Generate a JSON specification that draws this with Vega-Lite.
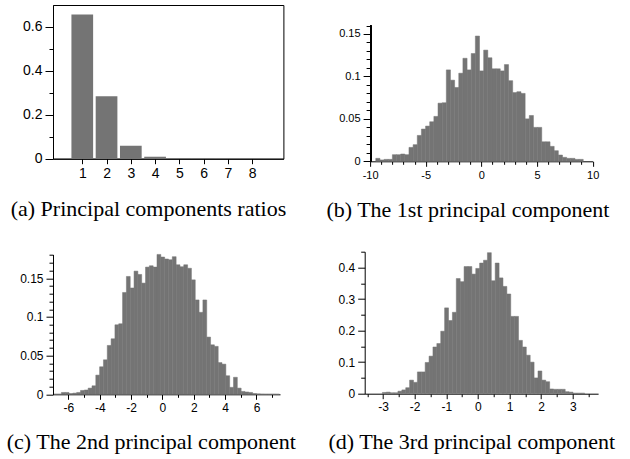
{
  "$schema": "https://vega.github.io/schema/vega-lite/v6.json",
  "background": "white",
  "padding": {"left": 6, "top": 4, "right": 4, "bottom": 4},
  "autosize": {"type": "pad"},
  "config": {
    "view": {"stroke": null},
    "axis": {"labelFont": "Liberation Sans", "labelColor": "black", "tickColor": "black", "domainColor": "black", "tickWidth": 1, "domainWidth": 1, "grid": false, "labelFlush": false, "labelOverlap": false, "labelPadding": 3},
    "title": {"font": "Liberation Serif", "fontSize": 22, "fontWeight": "normal", "color": "black"},
    "rect": {"color": "#747474", "stroke": "#747474", "strokeWidth": 0.5}
  },
  "datasets": {
    "pcr": [
      {"component": 1, "ratio": 0.657}, {"component": 2, "ratio": 0.284}, {"component": 3, "ratio": 0.059}, {"component": 4, "ratio": 0.009},
      {"component": 5, "ratio": 0.003}, {"component": 6, "ratio": 0.0015}, {"component": 7, "ratio": 0.001}, {"component": 8, "ratio": 0.001}
    ],
    "pc1": [
      {"x0":-9.49,"x1":-9.117,"density":0.0035},{"x0":-9.117,"x1":-8.744,"density":0.0016},{"x0":-8.744,"x1":-8.372,"density":0.0023},{"x0":-8.372,"x1":-7.999,"density":0.0023},
      {"x0":-7.999,"x1":-7.626,"density":0.0078},{"x0":-7.626,"x1":-7.253,"density":0.0078},{"x0":-7.253,"x1":-6.88,"density":0.0086},{"x0":-6.88,"x1":-6.508,"density":0.0078},
      {"x0":-6.508,"x1":-6.135,"density":0.0164},{"x0":-6.135,"x1":-5.762,"density":0.0196},{"x0":-5.762,"x1":-5.389,"density":0.0305},{"x0":-5.389,"x1":-5.016,"density":0.038},
      {"x0":-5.016,"x1":-4.644,"density":0.0415},{"x0":-4.644,"x1":-4.271,"density":0.0466},{"x0":-4.271,"x1":-3.898,"density":0.0529},{"x0":-3.898,"x1":-3.525,"density":0.0685},
      {"x0":-3.525,"x1":-3.152,"density":0.069},{"x0":-3.152,"x1":-2.78,"density":0.1077},{"x0":-2.78,"x1":-2.407,"density":0.0956},{"x0":-2.407,"x1":-2.034,"density":0.087},
      {"x0":-2.034,"x1":-1.661,"density":0.1038},{"x0":-1.661,"x1":-1.288,"density":0.1214},{"x0":-1.288,"x1":-0.916,"density":0.1077},{"x0":-0.916,"x1":-0.543,"density":0.127},
      {"x0":-0.543,"x1":-0.17,"density":0.1476},{"x0":-0.17,"x1":0.203,"density":0.1065},{"x0":0.203,"x1":0.576,"density":0.131},{"x0":0.576,"x1":0.948,"density":0.122},
      {"x0":0.948,"x1":1.321,"density":0.109},{"x0":1.321,"x1":1.694,"density":0.109},{"x0":1.694,"x1":2.067,"density":0.1065},{"x0":2.067,"x1":2.44,"density":0.114},
      {"x0":2.44,"x1":2.812,"density":0.095},{"x0":2.812,"x1":3.185,"density":0.081},{"x0":3.185,"x1":3.558,"density":0.082},{"x0":3.558,"x1":3.931,"density":0.08},
      {"x0":3.931,"x1":4.304,"density":0.05},{"x0":4.304,"x1":4.676,"density":0.054},{"x0":4.676,"x1":5.049,"density":0.04},{"x0":5.049,"x1":5.422,"density":0.04},
      {"x0":5.422,"x1":5.795,"density":0.023},{"x0":5.795,"x1":6.168,"density":0.023},{"x0":6.168,"x1":6.54,"density":0.0176},{"x0":6.54,"x1":6.913,"density":0.0125},
      {"x0":6.913,"x1":7.286,"density":0.0074},{"x0":7.286,"x1":7.659,"density":0.0047},{"x0":7.659,"x1":8.032,"density":0.0035},{"x0":8.032,"x1":8.404,"density":0.0035},
      {"x0":8.404,"x1":8.777,"density":0.0023},{"x0":8.777,"x1":9.15,"density":0.0023}
    ],
    "pc2": [
      {"x0":-6.934,"x1":-6.69,"density":0.0003},{"x0":-6.69,"x1":-6.446,"density":0.0003},{"x0":-6.446,"x1":-6.202,"density":0.0024},{"x0":-6.202,"x1":-5.958,"density":0.0024},
      {"x0":-5.958,"x1":-5.714,"density":0.001},{"x0":-5.714,"x1":-5.47,"density":0.0015},{"x0":-5.47,"x1":-5.226,"density":0.0024},{"x0":-5.226,"x1":-4.982,"density":0.005},
      {"x0":-4.982,"x1":-4.738,"density":0.0056},{"x0":-4.738,"x1":-4.494,"density":0.008},{"x0":-4.494,"x1":-4.25,"density":0.011},{"x0":-4.25,"x1":-4.006,"density":0.0248},
      {"x0":-4.006,"x1":-3.762,"density":0.0356},{"x0":-3.762,"x1":-3.518,"density":0.0446},{"x0":-3.518,"x1":-3.274,"density":0.0632},{"x0":-3.274,"x1":-3.03,"density":0.0718},
      {"x0":-3.03,"x1":-2.786,"density":0.0899},{"x0":-2.786,"x1":-2.542,"density":0.0912},{"x0":-2.542,"x1":-2.298,"density":0.1317},{"x0":-2.298,"x1":-2.054,"density":0.1524},
      {"x0":-2.054,"x1":-1.81,"density":0.1375},{"x0":-1.81,"x1":-1.566,"density":0.1593},{"x0":-1.566,"x1":-1.322,"density":0.155},{"x0":-1.322,"x1":-1.078,"density":0.1438},
      {"x0":-1.078,"x1":-0.834,"density":0.1645},{"x0":-0.834,"x1":-0.59,"density":0.1662},{"x0":-0.59,"x1":-0.346,"density":0.1645},{"x0":-0.346,"x1":-0.102,"density":0.1809},
      {"x0":-0.102,"x1":0.142,"density":0.1775},{"x0":0.142,"x1":0.386,"density":0.175},{"x0":0.386,"x1":0.63,"density":0.174},{"x0":0.63,"x1":0.874,"density":0.178},
      {"x0":0.874,"x1":1.118,"density":0.1675},{"x0":1.118,"x1":1.362,"density":0.165},{"x0":1.362,"x1":1.606,"density":0.1675},{"x0":1.606,"x1":1.85,"density":0.163},
      {"x0":1.85,"x1":2.094,"density":0.148},{"x0":2.094,"x1":2.338,"density":0.122},{"x0":2.338,"x1":2.582,"density":0.106},{"x0":2.582,"x1":2.826,"density":0.122},
      {"x0":2.826,"x1":3.07,"density":0.074},{"x0":3.07,"x1":3.314,"density":0.064},{"x0":3.314,"x1":3.558,"density":0.062},{"x0":3.558,"x1":3.802,"density":0.041},
      {"x0":3.802,"x1":4.046,"density":0.039},{"x0":4.046,"x1":4.29,"density":0.024},{"x0":4.29,"x1":4.534,"density":0.009},{"x0":4.534,"x1":4.778,"density":0.022},
      {"x0":4.778,"x1":5.022,"density":0.008},{"x0":5.022,"x1":5.266,"density":0.0037},{"x0":5.266,"x1":5.51,"density":0.003},{"x0":5.51,"x1":5.754,"density":0.0024},
      {"x0":5.754,"x1":5.998,"density":0.001},{"x0":5.998,"x1":6.242,"density":0.0006},{"x0":6.242,"x1":6.486,"density":0.0004},{"x0":6.486,"x1":6.73,"density":0.0003},
      {"x0":6.73,"x1":6.974,"density":0.0003},{"x0":6.974,"x1":7.218,"density":0.0003},{"x0":7.218,"x1":7.462,"density":0.0002}
    ],
    "pc3": [
      {"x0":-3.021,"x1":-2.898,"density":0.004},{"x0":-2.898,"x1":-2.775,"density":0.005},{"x0":-2.775,"x1":-2.652,"density":0.003},{"x0":-2.652,"x1":-2.529,"density":0.003},
      {"x0":-2.529,"x1":-2.406,"density":0.008},{"x0":-2.406,"x1":-2.283,"density":0.012},{"x0":-2.283,"x1":-2.16,"density":0.019},{"x0":-2.16,"x1":-2.037,"density":0.043},
      {"x0":-2.037,"x1":-1.914,"density":0.036},{"x0":-1.914,"x1":-1.791,"density":0.069},{"x0":-1.791,"x1":-1.668,"density":0.069},{"x0":-1.668,"x1":-1.545,"density":0.099},
      {"x0":-1.545,"x1":-1.422,"density":0.119},{"x0":-1.422,"x1":-1.299,"density":0.148},{"x0":-1.299,"x1":-1.176,"density":0.159},{"x0":-1.176,"x1":-1.053,"density":0.198},
      {"x0":-1.053,"x1":-0.93,"density":0.272},{"x0":-0.93,"x1":-0.807,"density":0.232},{"x0":-0.807,"x1":-0.684,"density":0.258},{"x0":-0.684,"x1":-0.561,"density":0.365},
      {"x0":-0.561,"x1":-0.438,"density":0.355},{"x0":-0.438,"x1":-0.315,"density":0.403},{"x0":-0.315,"x1":-0.192,"density":0.403},{"x0":-0.192,"x1":-0.069,"density":0.379},
      {"x0":-0.069,"x1":0.054,"density":0.397},{"x0":0.054,"x1":0.177,"density":0.414},{"x0":0.177,"x1":0.3,"density":0.423},{"x0":0.3,"x1":0.423,"density":0.447},
      {"x0":0.423,"x1":0.546,"density":0.358},{"x0":0.546,"x1":0.669,"density":0.414},{"x0":0.669,"x1":0.792,"density":0.367},{"x0":0.792,"x1":0.915,"density":0.34},
      {"x0":0.915,"x1":1.038,"density":0.316},{"x0":1.038,"x1":1.161,"density":0.245},{"x0":1.161,"x1":1.284,"density":0.245},{"x0":1.284,"x1":1.407,"density":0.169},
      {"x0":1.407,"x1":1.53,"density":0.148},{"x0":1.53,"x1":1.653,"density":0.122},{"x0":1.653,"x1":1.776,"density":0.1},{"x0":1.776,"x1":1.899,"density":0.05},
      {"x0":1.899,"x1":2.022,"density":0.072},{"x0":2.022,"x1":2.145,"density":0.043},{"x0":2.145,"x1":2.268,"density":0.038},{"x0":2.268,"x1":2.391,"density":0.015},
      {"x0":2.391,"x1":2.514,"density":0.014},{"x0":2.514,"x1":2.637,"density":0.014},{"x0":2.637,"x1":2.76,"density":0.014},{"x0":2.76,"x1":2.883,"density":0.0064},
      {"x0":2.883,"x1":3.006,"density":0.005},{"x0":3.006,"x1":3.129,"density":0.002},{"x0":3.129,"x1":3.252,"density":0.002},{"x0":3.252,"x1":3.375,"density":0.002}
    ]
  },
  "vconcat": [
    {
      "hconcat": [
        {
          "width": 230.4, "height": 153.7,
          "view": {"stroke": "black", "strokeWidth": 1},
          "title": {"text": "(a) Principal components ratios", "orient": "bottom", "anchor": "start", "frame": "group", "dx": -42.3, "offset": 35.3, "baseline": "alphabetic"},
          "data": {"name": "pcr"},
          "mark": {"type": "bar", "width": 21.7, "color": "#747474"},
          "encoding": {
            "x": {"field": "component", "type": "quantitative", "scale": {"domain": [0, 9.08], "nice": false},
              "axis": {"title": null, "values": [1,2,3,4,5,6,7,8], "tickSize": 5, "labelFontSize": 14, "minExtent": 22, "maxExtent": 22}},
            "y": {"field": "ratio", "type": "quantitative", "scale": {"domain": [0, 0.7], "nice": false},
              "axis": {"title": null, "values": [0,0.1,0.2,0.3,0.4,0.5,0.6], "labelFontSize": 14,
                "tickSize": {"condition": {"test": "abs(datum.value*5 - round(datum.value*5)) > 0.001", "value": 4}, "value": 8},
                "labelExpr": "abs(datum.value*5 - round(datum.value*5)) > 0.001 ? '' : '' + datum.value"}}
          }
        },
        {
          "width": 222.6, "height": 156.3,
          "title": {"text": "(b) The 1st principal component", "orient": "bottom", "anchor": "start", "frame": "group", "dx": -43.7, "offset": 36.7, "baseline": "alphabetic"},
          "data": {"name": "pc1"},
          "layer": [
            {
              "mark": {"type": "rect"},
              "encoding": {
                "x": {"field": "x0", "type": "quantitative", "scale": {"domain": [-10, 10], "nice": false},
                  "axis": {"title": null, "values": [-10,-9,-8,-7,-6,-5,-4,-3,-2,-1,0,1,2,3,4,5,6,7,8,9,10], "labelFontSize": 11, "minExtent": 18, "maxExtent": 18,
                    "tickSize": {"condition": {"test": "datum.value % 5 != 0", "value": 3}, "value": 5},
                    "labelExpr": "datum.value % 5 != 0 ? '' : '' + datum.value"}},
                "x2": {"field": "x1"},
                "y": {"field": "density", "type": "quantitative", "scale": {"domain": [0, 0.18417], "nice": false},
                  "axis": {"title": null, "domain": false, "values": [0,0.01,0.02,0.03,0.04,0.05,0.06,0.07,0.08,0.09,0.1,0.11,0.12,0.13,0.14,0.15,0.16], "labelFontSize": 11,
                    "tickSize": {"condition": {"test": "abs(datum.value*20 - round(datum.value*20)) > 0.001", "value": 4}, "value": 7},
                    "labelExpr": "abs(datum.value*20 - round(datum.value*20)) > 0.001 ? '' : '' + datum.value"}},
                "y2": {"datum": 0}
              }
            },
            {
              "mark": {"type": "rule", "color": "black", "strokeWidth": 1, "xOffset": 0.5},
              "encoding": {
                "x": {"datum": -10, "type": "quantitative", "scale": {"domain": [-10, 10], "nice": false},
                  "axis": {"title": null, "values": [-10,-9,-8,-7,-6,-5,-4,-3,-2,-1,0,1,2,3,4,5,6,7,8,9,10], "labelFontSize": 11, "minExtent": 18, "maxExtent": 18,
                    "tickSize": {"condition": {"test": "datum.value % 5 != 0", "value": 3}, "value": 5},
                    "labelExpr": "datum.value % 5 != 0 ? '' : '' + datum.value"}},
                "y": {"datum": 0, "type": "quantitative", "scale": {"domain": [0, 0.18417], "nice": false},
                  "axis": {"title": null, "domain": false, "values": [0,0.01,0.02,0.03,0.04,0.05,0.06,0.07,0.08,0.09,0.1,0.11,0.12,0.13,0.14,0.15,0.16], "labelFontSize": 11,
                    "tickSize": {"condition": {"test": "abs(datum.value*20 - round(datum.value*20)) > 0.001", "value": 4}, "value": 7},
                    "labelExpr": "abs(datum.value*20 - round(datum.value*20)) > 0.001 ? '' : '' + datum.value"}},
                "y2": {"datum": 0.16}
              }
            }
          ]
        }
      ],
      "spacing": 39.1
    },
    {
      "hconcat": [
        {
          "width": 227, "height": 142.6,
          "title": {"text": "(c) The 2nd principal component", "orient": "bottom", "anchor": "start", "frame": "group", "dx": -46.3, "offset": 35.7, "baseline": "alphabetic"},
          "data": {"name": "pc2"},
          "layer": [
            {
              "mark": {"type": "rect"},
              "encoding": {
                "x": {"field": "x0", "type": "quantitative", "scale": {"domain": [-6.98, 7.5], "nice": false},
                  "axis": {"title": null, "values": [-6,-5,-4,-3,-2,-1,0,1,2,3,4,5,6,7], "labelFontSize": 12, "minExtent": 18, "maxExtent": 18,
                    "tickSize": {"condition": {"test": "datum.value % 2 != 0", "value": 3}, "value": 5},
                    "labelExpr": "datum.value % 2 != 0 ? '' : '' + datum.value"}},
                "x2": {"field": "x1"},
                "y": {"field": "density", "type": "quantitative", "scale": {"domain": [0, 0.18441], "nice": false},
                  "axis": {"title": null, "domain": false, "values": [0,0.01,0.02,0.03,0.04,0.05,0.06,0.07,0.08,0.09,0.1,0.11,0.12,0.13,0.14,0.15,0.16,0.17,0.18], "labelFontSize": 12,
                    "tickSize": {"condition": {"test": "abs(datum.value*20 - round(datum.value*20)) > 0.001", "value": 4}, "value": 7},
                    "labelExpr": "abs(datum.value*20 - round(datum.value*20)) > 0.001 ? '' : '' + datum.value"}},
                "y2": {"datum": 0}
              }
            },
            {
              "mark": {"type": "rule", "color": "black", "strokeWidth": 1, "xOffset": 0.5},
              "encoding": {
                "x": {"datum": -6.98, "type": "quantitative", "scale": {"domain": [-6.98, 7.5], "nice": false},
                  "axis": {"title": null, "values": [-6,-5,-4,-3,-2,-1,0,1,2,3,4,5,6,7], "labelFontSize": 12, "minExtent": 18, "maxExtent": 18,
                    "tickSize": {"condition": {"test": "datum.value % 2 != 0", "value": 3}, "value": 5},
                    "labelExpr": "datum.value % 2 != 0 ? '' : '' + datum.value"}},
                "y": {"datum": 0, "type": "quantitative", "scale": {"domain": [0, 0.18441], "nice": false},
                  "axis": {"title": null, "domain": false, "values": [0,0.01,0.02,0.03,0.04,0.05,0.06,0.07,0.08,0.09,0.1,0.11,0.12,0.13,0.14,0.15,0.16,0.17,0.18], "labelFontSize": 12,
                    "tickSize": {"condition": {"test": "abs(datum.value*20 - round(datum.value*20)) > 0.001", "value": 4}, "value": 7},
                    "labelExpr": "abs(datum.value*20 - round(datum.value*20)) > 0.001 ? '' : '' + datum.value"}},
                "y2": {"datum": 0.18}
              }
            }
          ]
        },
        {
          "width": 233.4, "height": 142,
          "title": {"text": "(d) The 3rd principal component", "orient": "bottom", "anchor": "start", "frame": "group", "dx": -36.3, "offset": 36.3, "baseline": "alphabetic"},
          "data": {"name": "pc3"},
          "mark": {"type": "rect"},
          "encoding": {
            "x": {"field": "x0", "type": "quantitative", "scale": {"domain": [-3.58, 3.8], "nice": false},
              "axis": {"title": null, "values": [-3.5,-3,-2.5,-2,-1.5,-1,-0.5,0,0.5,1,1.5,2,2.5,3,3.5], "labelFontSize": 12, "minExtent": 18, "maxExtent": 18,
                "tickSize": {"condition": {"test": "datum.value % 1 != 0", "value": 3}, "value": 5},
                "labelExpr": "datum.value % 1 != 0 ? '' : '' + datum.value"}},
            "x2": {"field": "x1"},
            "y": {"field": "density", "type": "quantitative", "scale": {"domain": [0, 0.45], "nice": false},
              "axis": {"title": null, "values": [0,0.05,0.1,0.15,0.2,0.25,0.3,0.35,0.4,0.45], "labelFontSize": 12,
                "tickSize": {"condition": {"test": "abs(datum.value*10 - round(datum.value*10)) > 0.001", "value": 4}, "value": 7},
                "labelExpr": "abs(datum.value*10 - round(datum.value*10)) > 0.001 ? '' : '' + datum.value"}},
            "y2": {"datum": 0}
          }
        }
      ],
      "spacing": 30.7
    }
  ],
  "spacing": 24.7
}
